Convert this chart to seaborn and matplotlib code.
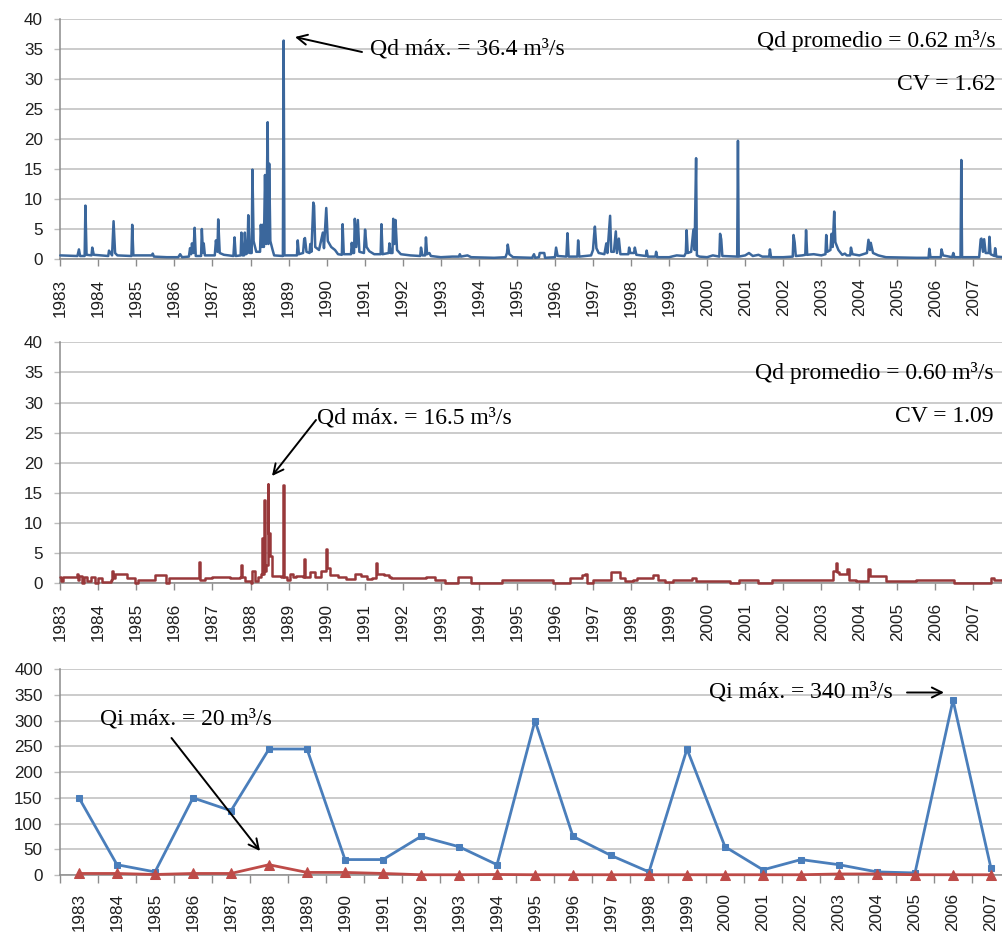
import matplotlib
matplotlib.use("Agg")
import matplotlib.pyplot as plt
import numpy as np
import pandas as pd
import seaborn as sns

# ---------------- DATA ----------------
# Panel 1: daily discharge Qd (m3/s), station 1 -- (decimal year, value)
qd1_points = [
    (1983.00, 0.6), (1983.45, 0.5), (1983.49, 1.6), (1983.52, 0.5), (1983.64, 0.5), (1983.66, 8.9),
    (1983.69, 0.7), (1983.82, 0.6), (1983.84, 1.9), (1983.88, 0.7), (1984.26, 0.5), (1984.28, 1.4),
    (1984.36, 0.6), (1984.40, 6.3), (1984.44, 1.0), (1984.50, 0.6), (1984.87, 0.5), (1984.89, 5.7),
    (1984.92, 0.6), (1985.40, 0.6), (1985.43, 0.9), (1985.46, 0.4), (1985.80, 0.3), (1986.10, 0.3),
    (1986.15, 0.8), (1986.20, 0.3), (1986.38, 0.4), (1986.41, 1.8), (1986.44, 0.8), (1986.46, 2.6),
    (1986.50, 1.0), (1986.53, 5.2), (1986.56, 0.5), (1986.70, 0.5), (1986.72, 5.0), (1986.75, 1.0),
    (1986.77, 2.6), (1986.80, 0.6), (1987.06, 0.6), (1987.09, 3.1), (1987.13, 1.2), (1987.15, 6.6),
    (1987.19, 1.0), (1987.30, 0.7), (1987.55, 0.5), (1987.58, 3.6), (1987.61, 0.5), (1987.74, 0.6),
    (1987.76, 4.4), (1987.79, 0.6), (1987.83, 0.6), (1987.85, 4.4), (1987.88, 0.8), (1987.92, 1.0),
    (1987.94, 7.3), (1987.98, 1.0), (1988.03, 1.0), (1988.05, 14.9), (1988.08, 3.0), (1988.15, 1.2),
    (1988.25, 1.2), (1988.27, 5.7), (1988.30, 2.0), (1988.32, 5.7), (1988.35, 2.0), (1988.38, 14.0),
    (1988.41, 2.5), (1988.45, 22.8), (1988.47, 2.5), (1988.49, 15.9), (1988.52, 3.0), (1988.58, 1.5),
    (1988.62, 0.6), (1988.85, 0.5), (1988.87, 36.4), (1988.89, 0.6), (1989.10, 0.6), (1989.22, 0.6),
    (1989.24, 3.1), (1989.27, 0.8), (1989.38, 1.0), (1989.41, 3.3), (1989.43, 3.5), (1989.47, 1.2),
    (1989.55, 1.0), (1989.57, 2.5), (1989.60, 1.2), (1989.65, 9.4), (1989.67, 8.9), (1989.70, 2.0),
    (1989.80, 1.5), (1989.90, 4.4), (1989.93, 1.8), (1989.99, 8.5), (1990.03, 3.0), (1990.12, 2.0),
    (1990.22, 1.5), (1990.30, 0.8), (1990.40, 0.7), (1990.42, 5.8), (1990.45, 0.8), (1990.64, 0.8),
    (1990.66, 2.7), (1990.69, 1.0), (1990.72, 1.0), (1990.74, 6.7), (1990.78, 2.0), (1990.82, 6.5),
    (1990.86, 1.2), (1990.98, 1.0), (1991.01, 4.9), (1991.05, 2.0), (1991.12, 1.3), (1991.25, 0.8),
    (1991.42, 0.8), (1991.44, 5.8), (1991.47, 0.8), (1991.63, 1.0), (1991.65, 2.6), (1991.68, 1.0),
    (1991.73, 1.0), (1991.75, 6.7), (1991.78, 2.5), (1991.81, 6.5), (1991.85, 1.5), (1991.95, 0.8),
    (1992.20, 0.6), (1992.46, 0.5), (1992.48, 1.9), (1992.52, 0.6), (1992.59, 0.6), (1992.61, 3.6),
    (1992.64, 0.8), (1992.70, 1.0), (1992.74, 0.5), (1993.00, 0.3), (1993.30, 0.4), (1993.48, 0.4),
    (1993.50, 0.8), (1993.53, 0.4), (1993.70, 0.6), (1993.80, 0.3), (1994.40, 0.2), (1994.70, 0.3),
    (1994.74, 1.0), (1994.76, 2.4), (1994.80, 0.8), (1994.90, 0.3), (1995.40, 0.2), (1995.45, 0.8),
    (1995.48, 0.2), (1995.58, 0.3), (1995.60, 1.0), (1995.72, 1.0), (1995.74, 0.2), (1996.00, 0.3),
    (1996.03, 1.9), (1996.07, 0.5), (1996.30, 0.4), (1996.33, 4.3), (1996.36, 0.4), (1996.59, 0.4),
    (1996.61, 3.1), (1996.64, 0.4), (1996.95, 0.6), (1997.00, 1.5), (1997.03, 4.0), (1997.05, 5.4),
    (1997.09, 1.8), (1997.15, 1.0), (1997.30, 0.8), (1997.35, 2.6), (1997.38, 1.0), (1997.40, 2.8),
    (1997.45, 7.2), (1997.48, 1.2), (1997.55, 1.2), (1997.60, 4.6), (1997.63, 1.0), (1997.68, 3.4),
    (1997.72, 0.8), (1997.93, 0.8), (1997.95, 1.9), (1997.98, 1.0), (1998.08, 1.0), (1998.10, 1.9),
    (1998.14, 0.7), (1998.39, 0.5), (1998.41, 1.4), (1998.44, 0.4), (1998.64, 0.4), (1998.66, 1.2),
    (1998.69, 0.3), (1999.00, 0.3), (1999.20, 0.6), (1999.40, 0.5), (1999.44, 1.0), (1999.46, 4.8),
    (1999.49, 1.0), (1999.58, 1.2), (1999.64, 4.9), (1999.67, 1.5), (1999.71, 16.8), (1999.73, 0.6),
    (1999.80, 0.4), (2000.00, 0.3), (2000.15, 0.6), (2000.32, 0.4), (2000.34, 4.2), (2000.37, 3.3),
    (2000.40, 0.5), (2000.79, 0.4), (2000.81, 19.7), (2000.83, 0.4), (2001.00, 0.6), (2001.10, 1.0),
    (2001.20, 0.5), (2001.35, 0.7), (2001.45, 0.4), (2001.63, 0.4), (2001.65, 1.6), (2001.68, 0.3),
    (2002.00, 0.3), (2002.25, 0.4), (2002.27, 4.0), (2002.30, 2.8), (2002.33, 0.5), (2002.50, 0.6),
    (2002.58, 0.7), (2002.60, 4.8), (2002.63, 0.7), (2002.80, 0.8), (2003.00, 0.6), (2003.11, 0.8),
    (2003.13, 4.0), (2003.16, 1.2), (2003.24, 1.5), (2003.27, 4.2), (2003.30, 2.0), (2003.34, 7.9),
    (2003.37, 2.8), (2003.45, 1.5), (2003.55, 0.7), (2003.62, 0.9), (2003.67, 0.6), (2003.76, 0.6),
    (2003.78, 1.9), (2003.82, 0.8), (2004.00, 0.6), (2004.20, 1.0), (2004.24, 3.2), (2004.28, 1.5),
    (2004.30, 2.7), (2004.36, 1.0), (2004.50, 0.6), (2004.70, 0.3), (2005.50, 0.2), (2005.82, 0.2),
    (2005.84, 1.7), (2005.87, 0.3), (2006.00, 0.3), (2006.14, 0.3), (2006.16, 1.6), (2006.20, 0.6),
    (2006.44, 0.3), (2006.47, 1.0), (2006.50, 0.3), (2006.66, 0.3), (2006.68, 16.5), (2006.70, 0.3),
    (2007.15, 0.3), (2007.19, 3.3), (2007.21, 3.4), (2007.25, 1.2), (2007.28, 3.3), (2007.32, 1.0),
    (2007.40, 1.0), (2007.42, 3.7), (2007.45, 0.8), (2007.55, 0.5), (2007.57, 1.8), (2007.60, 0.4),
    (2007.80, 0.3),
]

# Panel 2: daily discharge Qd (m3/s), station 2 -- (decimal year, value), step-like record
qd2_points = [
    (1983.00, 1.1), (1983.03, 0.3), (1983.07, 1.1), (1983.40, 1.1), (1983.43, 1.6), (1983.46, 0.5),
    (1983.50, 1.2), (1983.58, 0.1), (1983.62, 1.1), (1983.70, 0.3), (1983.80, 1.0), (1983.90, 0.1),
    (1984.00, 0.8), (1984.10, 0.2), (1984.33, 0.5), (1984.35, 2.1), (1984.38, 0.8), (1984.45, 1.6),
    (1984.65, 1.6), (1984.75, 0.8), (1984.96, 0.0), (1985.05, 0.6), (1985.40, 0.6), (1985.50, 1.4),
    (1985.70, 1.4), (1985.78, 0.0), (1985.85, 0.8), (1986.63, 0.8), (1986.65, 3.6), (1986.67, 0.5),
    (1986.80, 0.8), (1987.00, 1.0), (1987.35, 1.0), (1987.45, 0.8), (1987.72, 1.0), (1987.74, 3.0),
    (1987.77, 1.0), (1987.85, 0.3), (1988.00, 0.0), (1988.05, 2.0), (1988.12, 0.4), (1988.20, 1.0),
    (1988.28, 1.5), (1988.31, 7.5), (1988.33, 1.5), (1988.35, 13.8), (1988.37, 2.0), (1988.41, 3.0),
    (1988.45, 16.5), (1988.47, 8.3), (1988.51, 4.5), (1988.56, 1.2), (1988.70, 1.2), (1988.80, 1.0),
    (1988.85, 16.3), (1988.87, 1.0), (1988.95, 0.5), (1989.05, 1.5), (1989.12, 1.0), (1989.20, 1.2),
    (1989.38, 1.0), (1989.40, 4.0), (1989.42, 1.0), (1989.55, 1.8), (1989.70, 1.0), (1989.85, 2.0),
    (1989.97, 5.7), (1990.00, 2.5), (1990.10, 1.4), (1990.30, 1.0), (1990.50, 0.7), (1990.75, 1.5),
    (1990.90, 1.2), (1991.05, 0.7), (1991.20, 0.8), (1991.29, 3.3), (1991.33, 1.5), (1991.50, 1.4),
    (1991.65, 1.0), (1991.70, 0.8), (1992.50, 0.8), (1992.60, 1.0), (1992.85, 0.5), (1993.10, 0.0),
    (1993.40, 0.0), (1993.45, 1.1), (1993.70, 1.1), (1993.80, 0.0), (1994.30, 0.1), (1994.60, 0.5),
    (1995.90, 0.5), (1995.95, 0.0), (1996.30, 0.0), (1996.40, 0.9), (1996.60, 0.9), (1996.70, 1.4),
    (1996.80, 1.5), (1996.85, 0.0), (1997.00, 0.55), (1997.40, 0.55), (1997.48, 1.8), (1997.60, 1.8),
    (1997.70, 0.9), (1997.85, 0.4), (1998.05, 0.55), (1998.15, 0.9), (1998.59, 1.3), (1998.70, 0.6),
    (1998.90, 0.2), (1999.10, 0.5), (1999.50, 0.5), (1999.60, 0.9), (1999.70, 0.3), (2000.50, 0.3),
    (2000.60, 0.0), (2000.85, 0.6), (2001.30, 0.6), (2001.35, 0.0), (2001.60, 0.0), (2001.70, 0.5),
    (2002.45, 0.5), (2002.55, 0.6), (2003.10, 0.6), (2003.32, 2.0), (2003.38, 3.3), (2003.42, 1.9),
    (2003.47, 1.5), (2003.65, 1.5), (2003.67, 2.3), (2003.72, 0.6), (2003.90, 0.3), (2004.10, 0.3),
    (2004.22, 2.3), (2004.27, 1.2), (2004.60, 1.2), (2004.70, 0.3), (2005.40, 0.3), (2005.50, 0.5),
    (2006.40, 0.5), (2006.50, 0.0), (2007.40, 0.0), (2007.45, 0.8), (2007.55, 0.5), (2007.80, 0.5),
]

# Panel 3: annual instantaneous peak discharge Qi (m3/s)
years = list(range(1983, 2008))
qi_station1 = [150, 20, 6, 150, 125, 245, 245, 30, 30, 75, 55, 20, 300, 75, 38,
               6, 245, 55, 10, 30, 20, 6, 4, 340, 13]
qi_station2 = [3, 3, 1, 3, 3, 20, 5, 5, 3, 0.5, 0.5, 1, 0.5, 0.5, 0.5,
               0.5, 0.5, 0.5, 0.5, 0.5, 2, 2, 0.5, 0.5, 0.5]

y_ticks_daily = list(range(0, 45, 5))
y_ticks_annual = list(range(0, 450, 50))

# ---------------- STYLE ----------------
sns.set_theme(style="white")
plt.rcParams["font.family"] = ["Liberation Sans", "DejaVu Sans"]
SERIF = ["Liberation Serif", "DejaVu Serif"]

BLUE_D = "#3B679C"
RED_D = "#98383A"
BLUE_A = "#4A7EBB"
RED_A = "#BE4B48"
GRID = "#BDBDBD"
AXC = "#8C8C8C"
TXT = "#1F1F1F"

W, H = 1003, 933
fig = plt.figure(figsize=(W / 100, H / 100), dpi=100)


def box(l, t, r, b):
    return [l / W, 1 - b / H, (r - l) / W, (b - t) / H]


def fx(x, y):
    return (x / W, 1 - y / H)


ax1 = fig.add_axes(box(60.3, 19, 1010, 259))
ax2 = fig.add_axes(box(60.3, 342.3, 1010, 583.3))
ax3 = fig.add_axes(box(60.0, 669.3, 1010, 875))

df1 = pd.DataFrame(qd1_points, columns=["t", "q"])
df2 = pd.DataFrame(qd2_points, columns=["t", "q"])
df3 = pd.DataFrame({"idx": np.arange(len(years)), "s1": qi_station1, "s2": qi_station2})

sns.lineplot(data=df1, x="t", y="q", ax=ax1, color=BLUE_D, linewidth=1.8,
             estimator=None, sort=False, zorder=3, clip_on=False)
sns.lineplot(data=df2, x="t", y="q", ax=ax2, color=RED_D, linewidth=1.8,
             estimator=None, sort=False, drawstyle="steps-post", zorder=3, clip_on=False)
sns.lineplot(data=df3, x="idx", y="s1", ax=ax3, color=BLUE_A, linewidth=2.0,
             marker="s", markersize=5, markeredgecolor=BLUE_A, markerfacecolor=BLUE_A,
             zorder=3, clip_on=False)
sns.lineplot(data=df3, x="idx", y="s2", ax=ax3, color=RED_A, linewidth=2.0,
             marker="^", markersize=7, markeredgecolor=RED_A, markerfacecolor=RED_A,
             zorder=4, clip_on=False)

for ax in (ax1, ax2, ax3):
    ax.set_xlabel("")
    ax.set_ylabel("")
    ax.grid(axis="y", color=GRID, linewidth=1.1)
    ax.grid(axis="x", visible=False)
    ax.set_axisbelow(True)
    for s in ("top", "right"):
        ax.spines[s].set_visible(False)
    for s in ("left", "bottom"):
        ax.spines[s].set_color(AXC)
        ax.spines[s].set_linewidth(1.1)
        ax.spines[s].set_zorder(2)
    ax.tick_params(axis="y", length=4, width=1, color=GRID, pad=8.5,
                   labelsize=12.3, labelcolor=TXT, left=True)

for ax in (ax1, ax2):
    ax.set_xlim(1983, 2007.96)
    ax.set_ylim(0, 40)
    ax.set_yticks(y_ticks_daily)
    ax.set_xticks(years)
    ax.set_xticklabels([str(y) for y in years], rotation=90)
    ax.tick_params(axis="x", direction="out", length=5, width=1, color=AXC,
                   pad=9, labelsize=12.3, labelcolor=TXT, bottom=True)

ax3.set_xlim(-0.5, len(years) - 0.5)
ax3.set_ylim(0, 400)
ax3.set_yticks(y_ticks_annual)
ax3.set_xticks(np.arange(len(years)))
ax3.set_xticklabels([str(y) for y in years], rotation=90)
ax3.set_xticks(np.arange(len(years) + 1) - 0.5, minor=True)
ax3.tick_params(axis="x", which="major", length=0, pad=13, labelsize=12.3,
                labelcolor=TXT, bottom=True)
ax3.tick_params(axis="x", which="minor", direction="out", length=6, width=1,
                color=AXC, bottom=True)

# ---------------- ANNOTATIONS ----------------
TS = 17
arrow = dict(arrowstyle="->", color="black", lw=1.4, mutation_scale=18,
             shrinkA=0, shrinkB=0)

fig.text(*fx(370, 54), "Qd máx. = 36.4 m³/s", family=SERIF, fontsize=TS,
         ha="left", va="baseline", color="black")
fig.text(*fx(996, 47), "Qd promedio = 0.62 m³/s", family=SERIF, fontsize=TS,
         ha="right", va="baseline", color="black")
fig.text(*fx(996, 89.5), "CV = 1.62", family=SERIF, fontsize=TS,
         ha="right", va="baseline", color="black")
fig.add_artist(matplotlib.patches.FancyArrowPatch(
    fx(362, 52), fx(295, 37), transform=fig.transFigure, **arrow))

fig.text(*fx(317, 423.5), "Qd máx. = 16.5 m³/s", family=SERIF, fontsize=TS,
         ha="left", va="baseline", color="black")
fig.text(*fx(993.5, 379.5), "Qd promedio = 0.60 m³/s", family=SERIF, fontsize=TS,
         ha="right", va="baseline", color="black")
fig.text(*fx(993.5, 422), "CV = 1.09", family=SERIF, fontsize=TS,
         ha="right", va="baseline", color="black")
fig.add_artist(matplotlib.patches.FancyArrowPatch(
    fx(316, 420), fx(272, 476), transform=fig.transFigure, **arrow))

fig.text(*fx(100, 724), "Qi máx. = 20 m³/s", family=SERIF, fontsize=TS,
         ha="left", va="baseline", color="black")
fig.add_artist(matplotlib.patches.FancyArrowPatch(
    fx(171.5, 738), fx(260, 851), transform=fig.transFigure, **arrow))

fig.text(*fx(709, 697.5), "Qi máx. = 340 m³/s", family=SERIF, fontsize=TS,
         ha="left", va="baseline", color="black")
fig.add_artist(matplotlib.patches.FancyArrowPatch(
    fx(907, 692.5), fx(944, 692.5), transform=fig.transFigure, **arrow))

fig.savefig("out.png", dpi=100, facecolor="white")
